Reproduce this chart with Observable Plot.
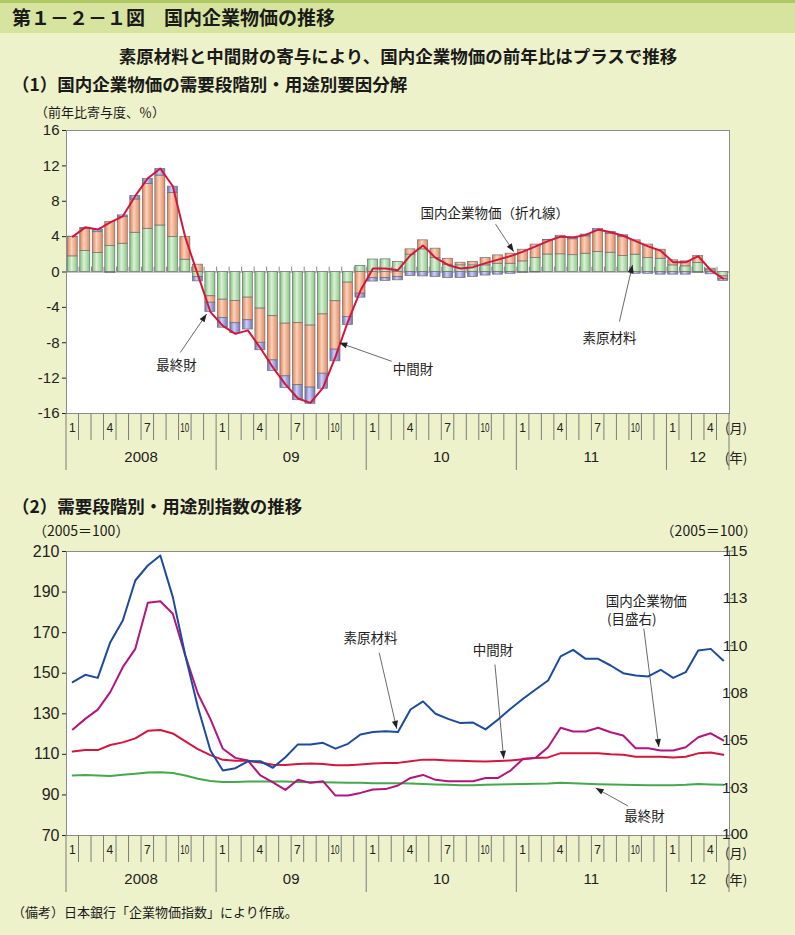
<!DOCTYPE html>
<html lang="ja"><head><meta charset="utf-8">
<script src="https://cdn.jsdelivr.net/npm/d3@7"></script>
<script src="https://cdn.jsdelivr.net/npm/@observablehq/plot@0.6"></script>
<style>
html,body{margin:0;padding:0;background:#eef2ca;}
#page{position:relative;width:795px;height:935px;overflow:hidden;background:#eef2ca;}
#bg{position:absolute;left:0;top:0;}
#top,#bottom{position:absolute;left:0;}
#top{top:120px;} #bottom{top:541px;}
</style></head><body>
<div id="page">
<svg id="bg" width="795" height="935" xmlns="http://www.w3.org/2000/svg">
  <rect x="0" y="0" width="795" height="33" fill="#d7e49f"/>
  <rect x="0" y="0" width="795" height="3" fill="#aec863"/>
  <g font-family="'Noto Sans CJK JP', sans-serif" fill="#1a1a1a">
    <text x="12" y="25" font-size="19" font-weight="bold">第１－２－１図　国内企業物価の推移</text>
    <text x="398" y="63" font-size="17.5" font-weight="bold" text-anchor="middle">素原材料と中間財の寄与により、国内企業物価の前年比はプラスで推移</text>
    <text x="12" y="91" font-size="17.5" font-weight="bold">（1）国内企業物価の需要段階別・用途別要因分解</text>
    <text x="35" y="117" font-size="13">（前年比寄与度、％）</text>
    <text x="12" y="513" font-size="17.5" font-weight="bold">（2）需要段階別・用途別指数の推移</text>
    <text x="33" y="536" font-size="14">（2005＝100）</text>
    <text x="757" y="536" font-size="14" text-anchor="end">（2005＝100）</text>
    <text x="12" y="917" font-size="13">（備考）日本銀行「企業物価指数」により作成。</text>
  </g>
</svg>
<div id="top"></div><div id="bottom"></div>
</div>
<script>
const NUM = "'Liberation Sans', Arial, sans-serif";
const JP = "'Noto Sans CJK JP', sans-serif";

// ---------- axis labels ----------
const monthLabelMonths = [1, 4, 7, 10];
const yearLabels = ["2008", "09", "10", "11", "12"];
const yearSpans = [12, 12, 12, 12, 5];
const months = d3.range(53); // 2008/1 ... 2012/5
const topYTicks = [-16, -12, -8, -4, 0, 4, 8, 12, 16];
const leftTicks = [70, 90, 110, 130, 150, 170, 190, 210];
const rightTickValues = [100, 102.5, 105, 107.5, 110, 112.5, 115];
const rightTickLabels = ["100", "103", "105", "108", "110", "113", "115"];

// ---------- (1) contributions, % points ----------
const seriesNames = ["素原材料", "中間財", "最終財"];
const rawContrib = [1.77, 2.37, 2.14, 2.93, 3.2, 4.44, 4.89, 5.26, 3.95, 1.39, -0.56, -2.75,
  -3.13, -3.28, -2.9, -4.14, -5.0, -5.84, -5.76, -6.06, -4.8, -3.31, -1.2, 0.68,
  1.41, 1.43, 1.13, 1.96, 2.56, 1.58, 0.83, 0.75, 0.75, 0.75, 0.94, 0.94,
  1.2, 1.58, 1.98, 2.0, 1.9, 2.07, 2.26, 2.18, 1.8, 1.96, 1.58, 1.5,
  0.75, 0.64, 1.0, 0.19, -0.5];
const interContrib = [2.18, 2.52, 2.36, 2.71, 3.0, 3.76, 5.07, 5.64, 5.0, 2.56, 0.83, -0.72,
  -2.07, -2.52, -2.56, -3.86, -5.0, -5.96, -7.04, -7.01, -6.7, -5.47, -3.88, -2.45,
  -0.7, -0.7, -0.56, 0.6, 1.02, 1.06, 0.67, 0.3, 0.4, 0.83, 0.94, 1.13,
  1.32, 1.52, 1.6, 1.9, 1.8, 1.96, 2.4, 2.15, 2.15, 1.62, 1.52, 1.02,
  0.57, 0.56, 0.8, 0.19, -0.3];
const finalContrib = [0.05, 0.1, 0.3, -0.1, 0.2, 0.4, 0.55, 0.75, 0.7, 0.0, -0.5, -1.05,
  -1.1, -1.13, -1.04, -0.85, -1.2, -1.3, -1.7, -1.83, -1.7, -1.32, -0.92, -0.45,
  -0.38, -0.3, -0.38, -0.45, -0.5, -0.56, -0.68, -0.68, -0.56, -0.4, -0.3, -0.2,
  -0.1, -0.05, 0.05, 0.2, 0.2, 0.2, 0.2, 0.2, 0.2, -0.2, -0.2, -0.3,
  -0.3, -0.3, -0.1, -0.26, -0.2];
const cgpiYoY = [4.0, 5.05, 4.8, 5.6, 6.3, 8.6, 10.6, 11.7, 9.7, 3.9, -0.3, -4.5,
  -6.1, -7.0, -6.6, -8.6, -10.8, -12.7, -14.3, -14.8, -13.1, -9.6, -5.6, -2.1,
  0.4, 0.4, 0.2, 1.9, 3.0, 1.6, 0.8, 0.4, 0.55, 1.0, 1.4, 1.8,
  2.3, 2.9, 3.5, 4.0, 3.9, 4.2, 4.8, 4.5, 4.1, 3.5, 2.9, 2.4,
  1.1, 1.1, 1.8, 0.2, -0.75];

// ---------- (2) indices, 2005 = 100 ----------
const idxRaw = [145.6, 149.2, 147.7, 165.3, 176.0, 195.7, 203.1, 208.0, 187.5, 158.7, 133.3, 112.0,
  102.0, 103.2, 106.6, 106.6, 103.4, 108.6, 114.9, 114.9, 115.7, 112.8, 115.2, 119.8,
  121.0, 121.4, 121.0, 132.1, 136.1, 130.0, 127.5, 125.4, 125.7, 122.3, 127.2, 132.5,
  137.4, 142.0, 146.4, 158.3, 161.5, 157.1, 157.1, 153.8, 150.0, 148.9, 148.4, 151.7,
  147.7, 150.5, 161.2, 162.0, 156.3];
const idxInter = [111.4, 112.1, 112.1, 114.6, 115.9, 117.9, 121.6, 122.0, 120.3, 116.4, 112.6, 109.6,
  107.3, 106.8, 106.8, 106.0, 104.9, 104.7, 105.2, 105.5, 105.3, 104.6, 104.6, 105.0,
  105.5, 105.8, 105.8, 106.6, 107.4, 107.3, 107.0, 106.8, 106.6, 106.5, 106.7, 107.0,
  107.6, 108.2, 108.5, 110.6, 110.6, 110.6, 110.6, 110.1, 109.8, 108.8, 108.8, 108.8,
  108.5, 108.8, 110.5, 110.9, 109.8];
const idxFinal = [99.6, 99.8, 99.6, 99.3, 100.0, 100.5, 101.0, 101.2, 100.8, 99.6, 98.0, 96.9,
  96.4, 96.4, 96.6, 96.6, 96.6, 96.6, 96.4, 96.2, 96.2, 96.1, 96.0, 96.0,
  95.8, 95.8, 95.8, 95.6, 95.4, 95.2, 95.0, 94.8, 94.8, 95.0, 95.2, 95.3,
  95.4, 95.5, 95.6, 96.0, 95.8, 95.5, 95.3, 95.2, 95.0, 94.9, 94.8, 94.8,
  94.8, 95.0, 95.4, 95.2, 95.0];
const idxCgpi = [105.6, 106.16, 106.65, 107.57, 108.89, 109.86, 112.29, 112.37, 111.71, 109.5, 107.5, 106.16,
  104.58, 104.1, 103.96, 103.17, 102.81, 102.41, 102.94, 102.78, 102.87, 102.11, 102.11, 102.25,
  102.43, 102.45, 102.64, 103.04, 103.2, 102.94, 102.87, 102.87, 102.87, 103.04, 103.04, 103.43,
  104.05, 104.1, 104.66, 105.69, 105.49, 105.49, 105.69, 105.45, 105.28, 104.61, 104.61, 104.49,
  104.49, 104.66, 105.19, 105.4, 105.02];

// right scale (100–115) mapped onto left scale (70–210)
const toLeft = v => 70 + (v - 100) * 140 / 15;

// ---------- annotations ----------
const topNotes = [
  {text: "国内企業物価（折れ線）", x: 28.3, y: 6.6, anchor: "start"},
  {text: "素原材料", x: 43.4, y: -7.5, anchor: "middle"},
  {text: "最終財", x: 8.8, y: -10.6, anchor: "middle"},
  {text: "中間財", x: 27.7, y: -11.1, anchor: "middle"}
];
const topArrows = [
  {x1: 34.3, y1: 5.4, x2: 35.75, y2: 2.3},
  {x1: 44.2, y1: -5.6, x2: 45.25, y2: 0.8},
  {x1: 9.1, y1: -9.1, x2: 11.2, y2: -4.75},
  {x1: 26.0, y1: -10.1, x2: 21.8, y2: -8.0}
];
const bottomNotes = [
  {text: "素原材料", x: 24.3, y: 167.1, anchor: "middle"},
  {text: "中間財", x: 34.1, y: 161.2, anchor: "middle"},
  {text: "国内企業物価", x: 43.1, y: 185.4, anchor: "start"},
  {text: "(目盛右)", x: 43.2, y: 176.5, anchor: "start"},
  {text: "最終財", x: 46.2, y: 79.4, anchor: "middle"}
];
const bottomArrows = [
  {x1: 25.0, y1: 160.0, x2: 26.4, y2: 122.6},
  {x1: 34.25, y1: 154.3, x2: 34.95, y2: 107.8},
  {x1: 46.15, y1: 172.0, x2: 47.35, y2: 113.6},
  {x1: 44.9, y1: 84.5, x2: 42.3, y2: 93.4}
];

function noteMarks(notes) {
  return ["start", "middle"].map(a => Plot.text(notes.filter(d => d.anchor === a), {
    x: "x", y: "y", text: "text", textAnchor: a, fontFamily: JP, fontSize: 13.5, fill: "#222"
  }));
}

function addDefs(chart, id) {
  const defs = d3.select(chart).insert("defs", ":first-child");
  const grads = [["gG", "#7fc080", "#dcf1d5", "#88c786"], ["gO", "#e07f55", "#f9d3bc", "#e4895f"], ["gB", "#6a6cbf", "#cfd0f2", "#7173c2"]];
  grads.forEach(([gid, a, b, c]) => {
    const lg = defs.append("linearGradient").attr("id", gid + id).attr("x1", 0).attr("x2", 1).attr("y1", 0).attr("y2", 0);
    lg.append("stop").attr("offset", 0).attr("stop-color", a);
    lg.append("stop").attr("offset", 0.42).attr("stop-color", b);
    lg.append("stop").attr("offset", 1).attr("stop-color", c);
  });
  const m = defs.append("marker").attr("id", "ah" + id).attr("viewBox", "0 0 10 10")
    .attr("refX", 10).attr("refY", 5).attr("markerWidth", 9).attr("markerHeight", 8)
    .attr("markerUnits", "userSpaceOnUse").attr("orient", "auto");
  m.append("path").attr("d", "M0,1.2L10,5L0,8.8z").attr("fill", "#222");
  d3.select(chart).selectAll('g[aria-label="link"] path').attr("marker-end", `url(#ah${id})`);
}

function addMonthAxis(chart, unitOffset) {
  const x = chart.scale("x"), y = chart.scale("y");
  const fb = y.apply(y.domain[0]);
  const g = d3.select(chart).append("g");
  for (let i = 0; i <= months.length; i++) {
    const long = i % 12 === 0 || i === months.length;
    g.append("line").attr("x1", x.apply(i)).attr("x2", x.apply(i))
      .attr("y1", fb).attr("y2", fb + (long ? 57 : 27))
      .attr("stroke", "#7c7c7c").attr("stroke-width", 1);
  }
  months.forEach(i => {
    const m = i % 12 + 1;
    if (monthLabelMonths.includes(m)) {
      const t = g.append("text").attr("x", x.apply(i + 0.5)).attr("y", fb + 19)
        .attr("text-anchor", "middle").attr("font-size", 12).attr("font-family", NUM)
        .attr("fill", "#222").text(String(m));
      if (m >= 10) t.attr("textLength", 9).attr("lengthAdjust", "spacingAndGlyphs");
    }
  });
  let start = 0;
  yearLabels.forEach((lab, k) => {
    g.append("text").attr("x", x.apply(start + yearSpans[k] / 2)).attr("y", fb + 49)
      .attr("text-anchor", "middle").attr("font-size", 15).attr("font-family", NUM)
      .attr("fill", "#222").text(lab);
    start += yearSpans[k];
  });
  const xe = x.apply(months.length);
  g.append("text").attr("x", xe + 7).attr("y", fb + unitOffset).attr("font-size", 13).attr("font-family", JP).attr("fill", "#222").text("(月)");
  g.append("text").attr("x", xe + 7).attr("y", fb + 50).attr("font-size", 13.5).attr("font-family", JP).attr("fill", "#222").text("(年)");
}

// ---------- (1) chart ----------
const seriesValues = [rawContrib, interContrib, finalContrib];
const contribRows = months.flatMap(i => seriesNames.map((s, k) => ({i, series: s, value: seriesValues[k][i]})));

const topChart = Plot.plot({
  width: 795, height: 360,
  marginTop: 10, marginBottom: 67, marginLeft: 66, marginRight: 66,
  style: {background: "transparent", fontFamily: NUM, fontSize: "15px", color: "#222"},
  x: {domain: [0, months.length], axis: null},
  y: {domain: [-16, 16], ticks: topYTicks, tickFormat: d => String(d), tickSize: 4, tickPadding: 3, label: null},
  color: {domain: seriesNames, range: ["url(#gGt)", "url(#gOt)", "url(#gBt)"]},
  marks: [
    Plot.frame({fill: "white", stroke: "none"}),
    Plot.ruleY([0], {stroke: "#8a8a8a", strokeWidth: 1.2}),
    Plot.ruleX(d3.range(1, months.length), {x: d => d, y1: 0, y2: 0.55, stroke: "#8a8a8a"}),
    Plot.rectY(contribRows, {x1: d => d.i + 0.1, x2: d => d.i + 0.9, y: "value", fill: "series", stroke: "#6e6e6e", strokeWidth: 0.7}),
    Plot.line(months, {x: i => i + 0.5, y: i => cgpiYoY[i], stroke: "#d3163d", strokeWidth: 2}),
    Plot.frame({stroke: "#8c8c8c"}),
    Plot.link(topArrows, {x1: "x1", y1: "y1", x2: "x2", y2: "y2", stroke: "#444", strokeWidth: 0.8}),
    ...noteMarks(topNotes)
  ]
});
document.getElementById("top").appendChild(topChart);
addDefs(topChart, "t");
addMonthAxis(topChart, 20);

// ---------- (2) chart ----------
const bottomChart = Plot.plot({
  width: 795, height: 354,
  marginTop: 10, marginBottom: 60, marginLeft: 66, marginRight: 66,
  style: {background: "transparent", fontFamily: NUM, fontSize: "16px", color: "#222"},
  x: {domain: [0, months.length], axis: null},
  y: {domain: [70, 210], ticks: leftTicks, tickFormat: d => String(d), tickSize: 4, tickPadding: 3, label: null},
  marks: [
    Plot.frame({fill: "white", stroke: "none"}),
    Plot.line(months, {x: i => i + 0.5, y: i => idxFinal[i], stroke: "#43a94c", strokeWidth: 2}),
    Plot.line(months, {x: i => i + 0.5, y: i => idxInter[i], stroke: "#d3163d", strokeWidth: 2}),
    Plot.line(months, {x: i => i + 0.5, y: i => toLeft(idxCgpi[i]), stroke: "#b3157f", strokeWidth: 2}),
    Plot.line(months, {x: i => i + 0.5, y: i => idxRaw[i], stroke: "#1c4b9d", strokeWidth: 2}),
    Plot.frame({stroke: "#8c8c8c"}),
    Plot.link(bottomArrows, {x1: "x1", y1: "y1", x2: "x2", y2: "y2", stroke: "#444", strokeWidth: 0.8}),
    ...noteMarks(bottomNotes)
  ]
});
document.getElementById("bottom").appendChild(bottomChart);
addDefs(bottomChart, "b");
addMonthAxis(bottomChart, 23);
(function rightAxis() {
  const x = bottomChart.scale("x"), y = bottomChart.scale("y");
  const xr = x.apply(months.length);
  const g = d3.select(bottomChart).append("g");
  rightTickValues.forEach((v, k) => {
    const py = y.apply(toLeft(v));
    g.append("line").attr("x1", xr).attr("x2", xr + 4).attr("y1", py).attr("y2", py).attr("stroke", "#7c7c7c");
    g.append("text").attr("x", xr + 6).attr("y", py + (k === 0 ? 3.5 : 5)).attr("font-size", 15.5).attr("font-family", NUM).attr("fill", "#222").text(rightTickLabels[k]);
  });
})();
</script>
</body></html>
